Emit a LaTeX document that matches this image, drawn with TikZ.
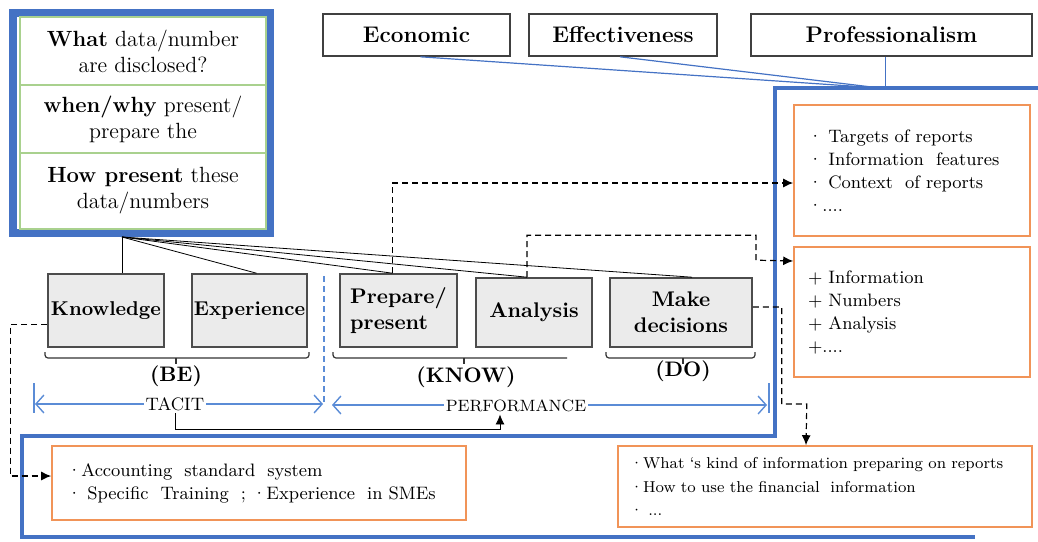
\documentclass[tikz,border=0pt]{standalone}
\usetikzlibrary{arrows.meta}

\definecolor{frameblue}{RGB}{68,114,196}
\definecolor{cellgreen}{RGB}{169,209,142}
\definecolor{noteorange}{RGB}{241,148,88}
\definecolor{skillgray}{RGB}{235,235,235}
\definecolor{linkblue}{RGB}{91,140,214}

\tikzset{
  frame/.style={draw=frameblue, line width=2pt},
  qframe/.style={draw=frameblue, line width=4pt},
  tie/.style={draw=frameblue, line width=0.6pt},
  topbox/.style={draw=black!75, line width=0.8pt, minimum height=21pt, font=\bfseries\fontsize{11.3}{13}\selectfont},
  cell/.style={draw=cellgreen, line width=0.8pt, minimum width=123pt, align=center, font=\fontsize{11}{13}\selectfont},
  skill/.style={draw=black!70, fill=skillgray, line width=0.8pt, inner sep=1pt, align=center, font=\bfseries\fontsize{10.6}{13}\selectfont},
  note/.style={draw=noteorange, fill=white, line width=0.8pt, inner xsep=7pt, align=left, font=\fontsize{9}{11.5}\selectfont},
  bracket/.style={draw=black!80, line width=0.6pt, rounded corners=1.5pt},
  group/.style={font=\bfseries\fontsize{10.5}{12}\selectfont},
  span/.style={linkblue, line width=0.7pt, {Straight Barb[length=4pt,width=9pt]}-{Straight Barb[length=4pt,width=9pt]}},
  dasharrow/.style={densely dashed, line width=0.6pt, -{Latex[length=5pt,width=4.5pt]}}
}

\begin{document}
\begin{tikzpicture}[x=0.5pt,y=-0.5pt]
 \useasboundingbox (0,0) rectangle (1038,541);

 % Draw blue frames
    \draw[frame] (1038,88) -- (775,88) -- (775,436) -- (22,436) -- (22,537) -- (975,537);
    \draw[qframe] (13,13) rectangle (270,233);

 % QUESTION CELLS
    \node[cell, minimum height=34pt] (what) at (143,51) {\textbf{What} data/number\\are disclosed?};
    \node[cell, minimum height=34pt] (when) at (143,119) {\textbf{when/why} present/\\prepare the};
    \node[cell, minimum height=38pt] (how) at (143,191) {\textbf{How present} these\\data/numbers};
    \coordinate (fan) at (122,237);

 % criteria on top
  \foreach \name/\x/\w/\txt in {eco/416.5/93.5pt/Economic, eff/623/94pt/Effectiveness, pro/891.5/140.5pt/Professionalism} {
    \node[topbox, minimum width=\w] (\name) at (\x,35) {\txt};
  }
    \coordinate (meet) at (880,88);
    \draw[tie] ([xshift=2pt]eco.south) -- (meet);
    \draw[tie] ([xshift=-1.5pt]eff.south) -- (meet);
    \draw[tie] ([xshift=-3pt]pro.south) -- ([xshift=-3pt]pro.south |- meet);

 % skills
    \node[skill, minimum width=58pt, minimum height=36.5pt, font=\bfseries\fontsize{10}{12}\selectfont] (know) at (106,310.5) {Knowledge};
    \node[skill, minimum width=57.5pt, minimum height=36.5pt, font=\bfseries\fontsize{10}{12}\selectfont] (exp) at (249.5,310.5) {Experience};
    \node[skill, minimum width=58.5pt, minimum height=36.5pt, align=left] (prep) at (398.5,310.5) {Prepare/\\present};
    \node[skill, minimum width=58pt, minimum height=34.5pt] (ana) at (534,312.5) {Analysis};
    \node[skill, minimum width=71pt, minimum height=34.5pt] (make) at (681,312.5) {Make\\decisions};

    \draw (fan) -- (fan |- know.north);
  \foreach \n/\s in {exp/3.5pt, prep/-3pt, ana/-3.5pt, make/5.5pt} {
    \draw (fan) -- ([xshift=\s]\n.north);
  }

 % brackets
    \draw[bracket] (45,352) -- (45,358) -- (309,358) -- (309,352);
    \draw[bracket] (176,358) -- (176,364);
    \draw[bracket] (333,352) -- (333,358) -- (567,358);
    \draw[bracket] (464,358) -- (464,364);
    \draw[bracket] (606,352) -- (606,358) -- (755,358) -- (755,352);
    \draw[bracket] (683,358) -- (683,364);
    \node[group] (be) at (176,376) {(BE)};
    \node[group] (knowlbl) at (466,377) {(KNOW)};
    \node[group] (do) at (683,371) {(DO)};

 % TACIT / PERFORMANCE
    \draw[linkblue, densely dashed, line width=0.6pt] (324,276) -- (324,405);
    \draw[linkblue, line width=0.7pt] (34,383) -- (34,413);
    \draw[linkblue, line width=0.7pt] (769,383) -- (769,413);
    \draw[span] (35,404) -- (323,404);
    \draw[span] (332,405) -- (767,405);
    \node[fill=white, inner sep=1pt, font=\fontsize{9}{10}\selectfont] (tacit) at (175,404) {TACIT};
    \node[fill=white, inner sep=1pt, font=\fontsize{8.2}{10}\selectfont] (perf) at (516,406) {PERFORMANCE};
    \draw[-{Latex[length=5pt,width=4.5pt]}] (tacit.south) -- ++(0,16) -| ([xshift=-8pt]perf.south);

 % notes
    \node[note, text width=104pt, minimum height=65.5pt] (tgt) at (912,170.5)
      {· Targets of reports\\· Information\ \ features\\· Context\ \ of reports\\·....};
    \node[note, text width=104pt, minimum height=65pt] (info) at (912,312)
      {+ Information\\+ Numbers\\+ Analysis\\+....};
    \node[note, inner xsep=7.5pt, text width=192pt, minimum height=37pt] (acc) at (259,483)
      {·Accounting\ \ standard\ \ system\\· Specific\ \ Training\ \ ;\ ·Experience\ \ in SMEs};
    \node[note, inner xsep=6pt, text width=195pt, minimum height=40.5pt, font=\fontsize{7.9}{11.75}\selectfont] (use) at (825,486.5)
      {·What ‘s kind of information preparing on reports\\·How to use the financial\ \ information\\·\ ...};

 % dashed links
    \draw[dasharrow] ([yshift=-7pt]know.west) -- ++(-37,0) |- ([yshift=3.5pt]acc.west);
    \draw[dasharrow] ([xshift=-3pt]prep.north) |- ([yshift=-6.25pt]tgt.west);
    \draw[dasharrow] ([xshift=-3.5pt]ana.north) -- ++(0,-42) -| ++(229,25) -- ([yshift=25.5pt]info.west);
    \draw[dasharrow] ([yshift=2.75pt]make.east) -- ++(29,0) |- ++(25,97) -- ([xshift=-9.5pt]use.north);
\end{tikzpicture}
\end{document}
